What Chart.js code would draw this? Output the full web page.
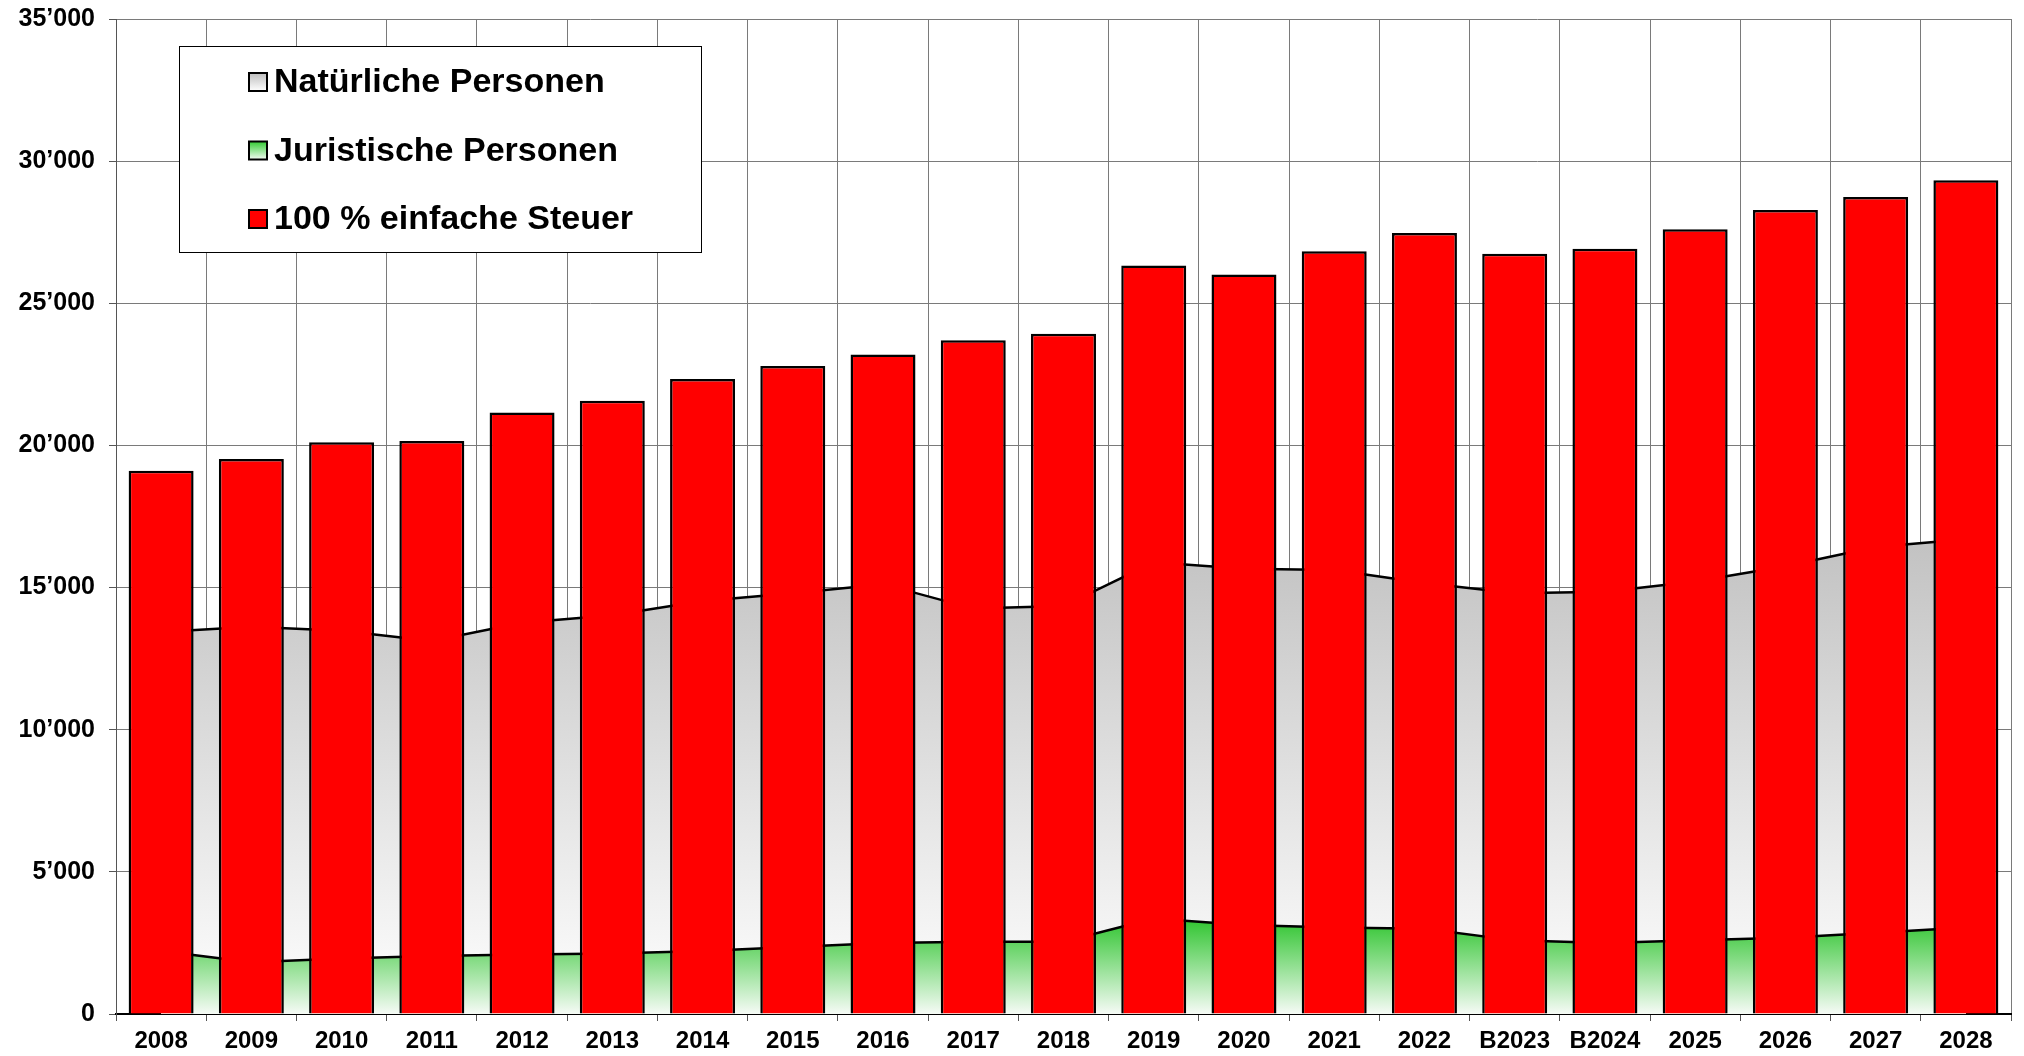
<!DOCTYPE html>
<html>
<head>
<meta charset="utf-8">
<script src="https://cdn.jsdelivr.net/npm/chart.js@4.4.1/dist/chart.umd.min.js"></script>
<style>
  html, body { margin: 0; padding: 0; background: #fff; }
  #wrap { width: 2024px; height: 1056px; }
</style>
</head>
<body>
<div id="wrap"><canvas id="chart"></canvas></div>
<script>
const years = ['2008', '2009', '2010', '2011', '2012', '2013', '2014', '2015', '2016', '2017', '2018',
  '2019', '2020', '2021', '2022', 'B2023', 'B2024', '2025', '2026', '2027', '2028'];
const einfacheSteuer = [19110, 19520, 20110, 20160, 21160, 21570, 22340, 22790, 23200, 23700, 23930,
  26330, 26010, 26830, 27470, 26740, 26920, 27600, 28280, 28740, 29330];
const natuerlichePersonen = [13440, 13620, 13480, 13120, 13760, 14030, 14530, 14800, 15120, 14260, 14350,
  15890, 15660, 15620, 15160, 14800, 14850, 15210, 15750, 16430, 16700];
const juristischePersonen = [2220, 1820, 1950, 2040, 2090, 2130, 2220, 2360, 2500, 2540, 2540,
  3360, 3130, 3040, 3000, 2590, 2500, 2590, 2680, 2860, 3040];
const yMax = 35000;
const yStep = 5000;

const FONT = '"Liberation Sans", Arial, sans-serif';

function fmt(v) {
  return String(v).replace(/\B(?=(\d{3})+(?!\d))/g, '\u2019');
}

// vertical gradient from the top of the series down to the zero line
function areaFill(data, topColor, bottomColor) {
  return function(ctx) {
    const chart = ctx.chart;
    if (!chart.chartArea) return topColor;
    const y = chart.scales.y;
    const g = chart.ctx.createLinearGradient(0, y.getPixelForValue(Math.max(...data)), 0, y.getPixelForValue(0));
    g.addColorStop(0, topColor);
    g.addColorStop(1, bottomColor);
    return g;
  };
}

const boxLegend = {
  id: 'boxLegend',
  afterDraw(chart) {
    const c = chart.ctx;
    const x = 179, y = 46, w = 522, h = 206;
    c.save();
    c.fillStyle = '#fff';
    c.fillRect(x, y, w, h);
    c.strokeStyle = '#000';
    c.lineWidth = 1;
    c.strokeRect(x + 0.5, y + 0.5, w, h);
    const entries = [
      { ds: chart.data.datasets[1], top: '#bdbdbd', bottom: '#ffffff' },
      { ds: chart.data.datasets[2], top: '#33cc33', bottom: '#f4fbf4' },
      { ds: chart.data.datasets[0], top: '#ff0000', bottom: '#ff0000' }
    ];
    entries.forEach((e, i) => {
      const cy = 82 + i * 68.5;
      const g = c.createLinearGradient(0, cy - 9, 0, cy + 9);
      g.addColorStop(0, e.top);
      g.addColorStop(1, e.bottom);
      c.fillStyle = g;
      c.fillRect(249, cy - 9, 18, 18);
      c.lineWidth = 2;
      c.strokeStyle = '#000';
      c.strokeRect(249, cy - 9, 18, 18);
      c.fillStyle = '#000';
      c.font = 'bold 34px ' + FONT;
      c.textBaseline = 'middle';
      c.fillText(e.ds.label, 274, cy + 1);
    });
    c.restore();
  }
};

new Chart(document.getElementById('chart'), {
  type: 'bar',
  data: {
    labels: years,
    datasets: [
      {
        type: 'bar',
        label: '100 % einfache Steuer',
        data: einfacheSteuer,
        backgroundColor: '#ff0000',
        borderColor: '#000',
        borderWidth: 2.5,
        borderSkipped: 'bottom',
        categoryPercentage: 1,
        barPercentage: 0.72,
        order: 0
      },
      {
        type: 'line',
        label: 'Natürliche Personen',
        data: natuerlichePersonen,
        borderColor: '#000',
        borderWidth: 2.5,
        pointRadius: 0,
        tension: 0,
        fill: 'origin',
        backgroundColor: areaFill(natuerlichePersonen, '#c2c2c2', '#ffffff'),
        order: 2
      },
      {
        type: 'line',
        label: 'Juristische Personen',
        data: juristischePersonen,
        borderColor: '#000',
        borderWidth: 2.5,
        pointRadius: 0,
        tension: 0,
        fill: 'origin',
        backgroundColor: areaFill(juristischePersonen, '#2ec42e', '#f6fbf6'),
        order: 1
      }
    ]
  },
  options: {
    responsive: true,
    maintainAspectRatio: false,
    animation: false,
    layout: { padding: { top: 19, right: 13, left: 0, bottom: 0 } },
    plugins: {
      legend: { display: false },
      tooltip: { enabled: false }
    },
    scales: {
      x: {
        offset: true,
        grid: { color: '#7a7a7a', lineWidth: 1, offset: true, tickLength: 7, tickColor: '#555' },
        border: { color: '#000', width: 2 },
        ticks: { color: '#000', font: { family: FONT, size: 24, weight: 'bold' }, padding: 6, maxRotation: 0 },
        afterFit(s) { s.height = 42; s.paddingLeft = 0; s.paddingRight = 0; }
      },
      y: {
        min: 0,
        max: yMax,
        grid: { color: '#7a7a7a', lineWidth: 1, tickLength: 7, tickColor: '#555' },
        border: { color: '#555', width: 1 },
        ticks: {
          stepSize: yStep,
          color: '#000',
          font: { family: FONT, size: 25, weight: 'bold' },
          padding: 14,
          callback: v => fmt(v)
        },
        afterFit(s) { s.width = 116; s.paddingTop = 0; s.paddingBottom = 0; }
      }
    }
  },
  plugins: [boxLegend]
});
</script>
</body>
</html>
